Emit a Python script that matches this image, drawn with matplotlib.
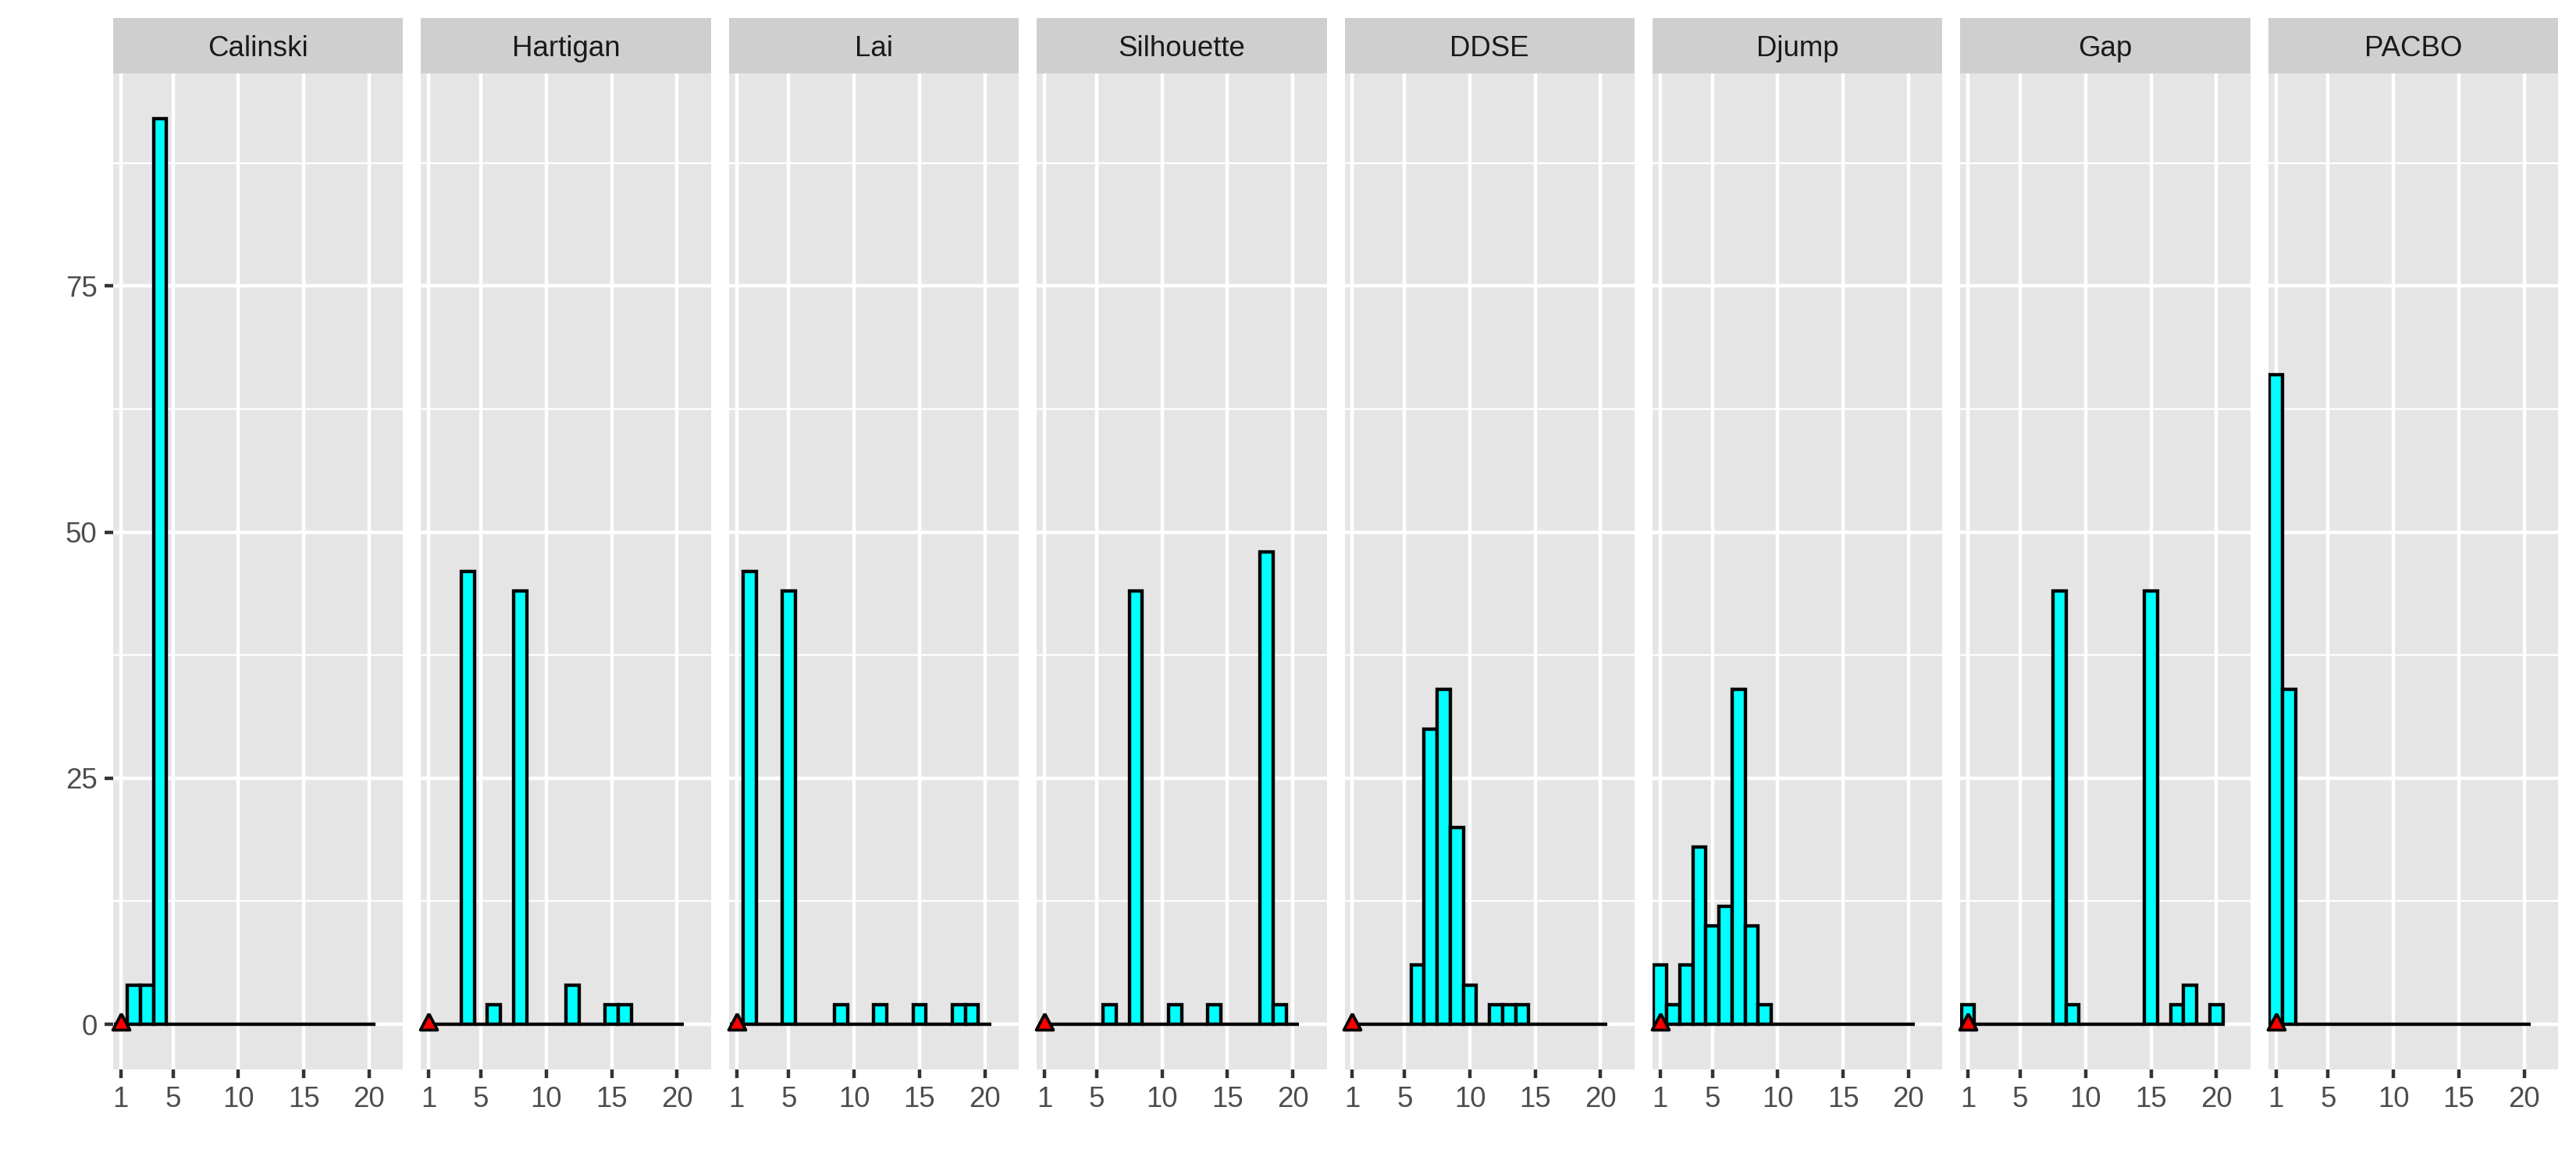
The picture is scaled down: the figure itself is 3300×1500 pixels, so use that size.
import matplotlib
matplotlib.use('Agg')
import matplotlib.pyplot as plt

# Fonts - Liberation Sans stands in for Helvetica/Arial
plt.rcParams['font.family'] = ['Liberation Sans', 'DejaVu Sans']

"""
-----------------------------------------------------------------------
	Data : number of clusters selected over 100 replications
-----------------------------------------------------------------------
"""
k_values = [1, 2, 3, 4, 5, 6, 7, 8, 9, 10, 11, 12, 13, 14, 15, 16, 17, 18, 19, 20]

methods = ['Calinski', 'Hartigan', 'Lai', 'Silhouette', 'DDSE', 'Djump', 'Gap', 'PACBO']

calinski   = [0, 4, 4, 92, 0, 0, 0, 0, 0, 0, 0, 0, 0, 0, 0, 0, 0, 0, 0, 0]
hartigan   = [0, 0, 0, 46, 0, 2, 0, 44, 0, 0, 0, 4, 0, 0, 2, 2, 0, 0, 0, 0]
lai        = [0, 46, 0, 0, 44, 0, 0, 0, 2, 0, 0, 2, 0, 0, 2, 0, 0, 2, 2, 0]
silhouette = [0, 0, 0, 0, 0, 2, 0, 44, 0, 0, 2, 0, 0, 2, 0, 0, 0, 48, 2, 0]
ddse       = [0, 0, 0, 0, 0, 6, 30, 34, 20, 4, 0, 2, 2, 2, 0, 0, 0, 0, 0, 0]
djump      = [6, 2, 6, 18, 10, 12, 34, 10, 2, 0, 0, 0, 0, 0, 0, 0, 0, 0, 0, 0]
gap        = [2, 0, 0, 0, 0, 0, 0, 44, 2, 0, 0, 0, 0, 0, 44, 0, 2, 4, 0, 2]
pacbo      = [66, 34, 0, 0, 0, 0, 0, 0, 0, 0, 0, 0, 0, 0, 0, 0, 0, 0, 0, 0]

counts = [calinski, hartigan, lai, silhouette, ddse, djump, gap, pacbo]

true_k = 1 # red triangle

x_breaks = [1, 5, 10, 15, 20]
y_breaks = [0, 25, 50, 75]
y_minor = [12.5, 37.5, 62.5, 87.5]

"""
-----------------------------------------------------------------------
	Layout (pixels of a 3300x1500 picture)
-----------------------------------------------------------------------
"""
W, H = 3300, 1500
left0 = 145
panel_w = 371.4
gap_w = 23
strip_top = 23
strip_bot = 94
panel_bot = 1370

# triangle a bit above its anchor, like R's pch 24
triangle = [(0, 1), (-0.786, -0.5), (0.786, -0.5), (0, 1)]

fig = plt.figure(figsize=(11, 5), dpi=300)

for i in range(len(methods)):
    x0 = left0 + i * (panel_w + gap_w)

    # panel
    ax = fig.add_axes([x0 / W, 1 - panel_bot / H, panel_w / W, (panel_bot - strip_bot) / H])
    ax.set_facecolor('#E5E5E5')
    ax.bar(k_values, counts[i], width=1, color='cyan', edgecolor='black', linewidth=1.05, zorder=3)
    ax.plot([true_k], [0], marker=triangle, markersize=6.7, markerfacecolor='red',
            markeredgecolor='black', markeredgewidth=0.9, linestyle='none', zorder=4, clip_on=False)

    ax.set_xlim(0.42, 22.6)
    ax.set_ylim(-4.6, 96.6)
    ax.set_xticks(x_breaks)
    ax.set_yticks(y_breaks)
    ax.set_yticks(y_minor, minor=True)
    ax.grid(which='major', color='white', linewidth=1.07)
    ax.grid(which='minor', axis='y', color='white', linewidth=0.53)
    ax.set_axisbelow(True)
    for s in ax.spines.values():
        s.set_visible(False)
    ax.tick_params(which='major', length=2.75, width=1.07, color='#333333',
                   labelsize=8.8, labelcolor='#4D4D4D', pad=2.2)
    ax.tick_params(which='minor', length=0)
    if i > 0:
        ax.tick_params(axis='y', left=False, labelleft=False)

    # strip on top
    strip = fig.add_axes([x0 / W, 1 - strip_bot / H, panel_w / W, (strip_bot - strip_top) / H])
    strip.set_facecolor('#CFCFCF')
    strip.set_xticks([])
    strip.set_yticks([])
    for s in strip.spines.values():
        s.set_visible(False)
    strip.text(0.5, 0.5, methods[i], ha='center', va='center_baseline', fontsize=8.8,
               color='#1A1A1A', transform=strip.transAxes)

fig.savefig('out.png', dpi=300)
